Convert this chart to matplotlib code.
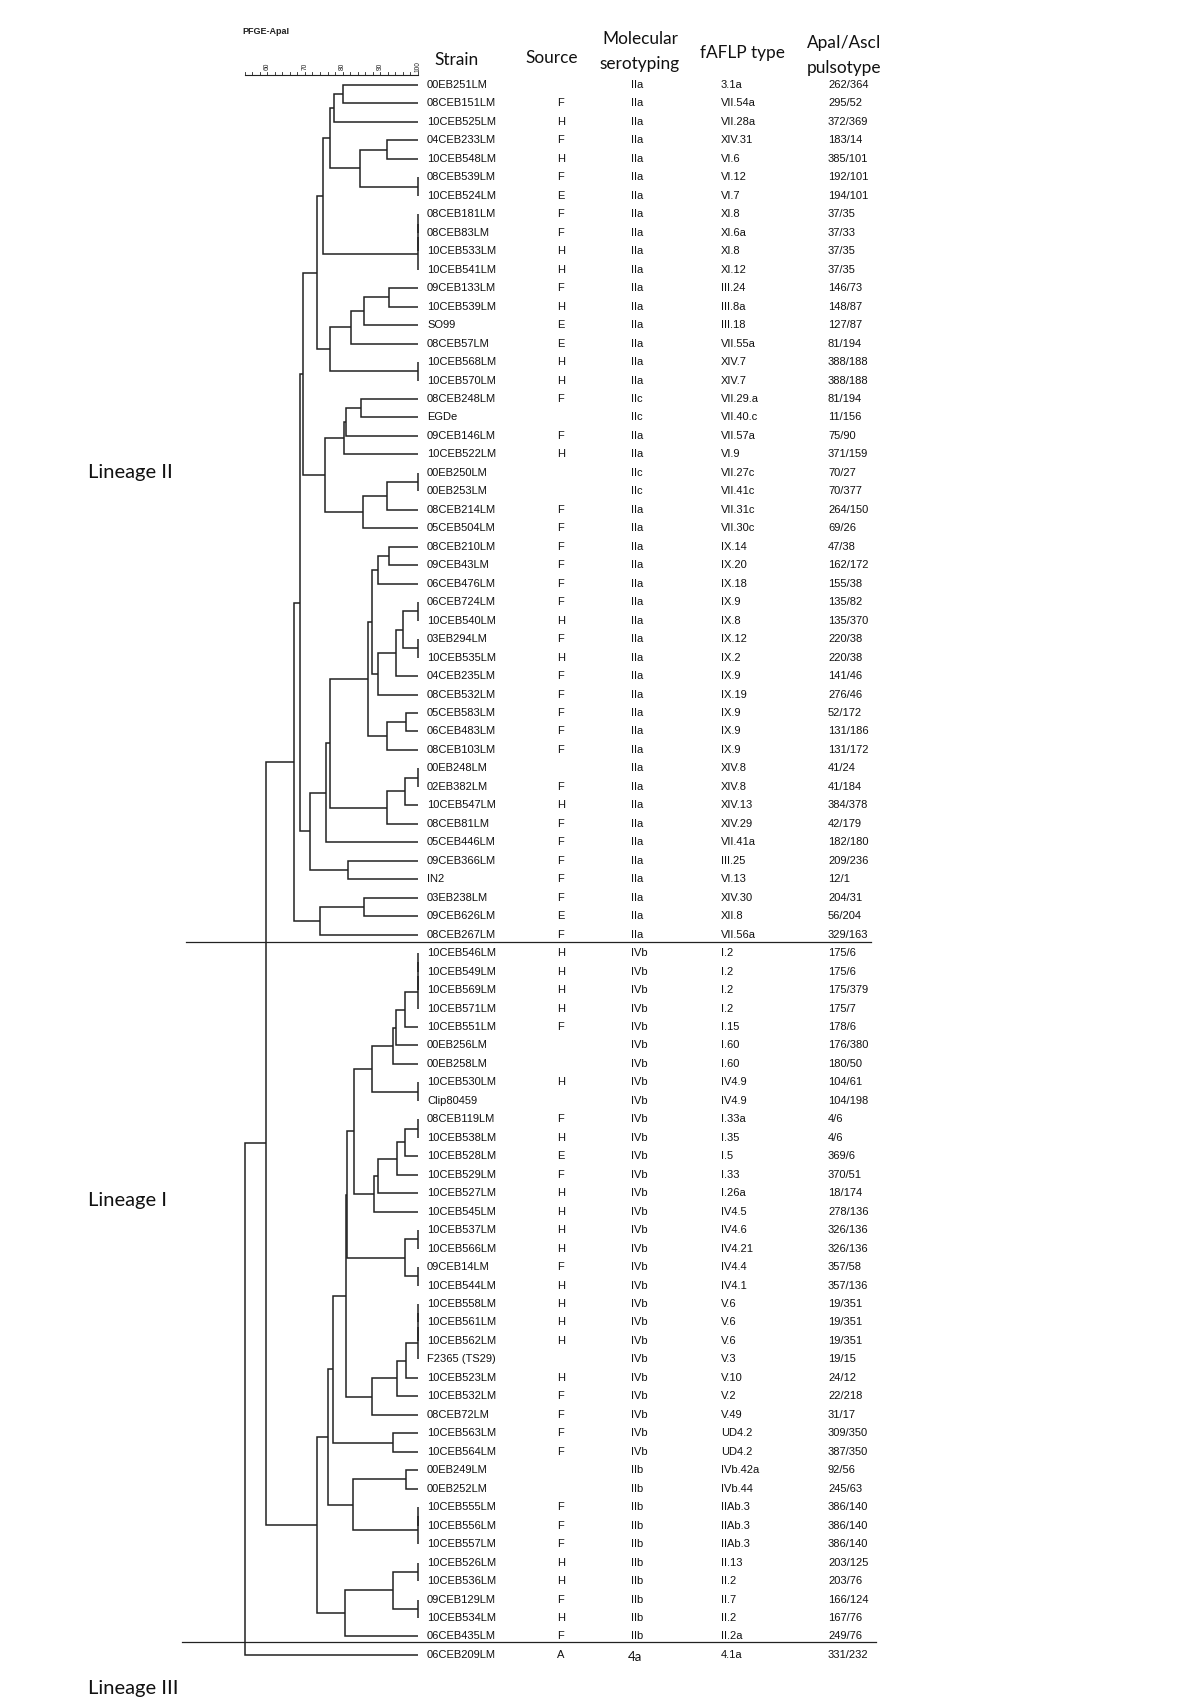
import matplotlib
matplotlib.use('Agg')
import matplotlib.pyplot as plt
from matplotlib import font_manager

strains = ['00EB251LM', '08CEB151LM', '10CEB525LM', '04CEB233LM', '10CEB548LM', '08CEB539LM',
           '10CEB524LM', '08CEB181LM', '08CEB83LM', '10CEB533LM', '10CEB541LM', '09CEB133LM',
           '10CEB539LM', 'SO99', '08CEB57LM', '10CEB568LM', '10CEB570LM', '08CEB248LM', 'EGDe',
           '09CEB146LM', '10CEB522LM', '00EB250LM', '00EB253LM', '08CEB214LM', '05CEB504LM',
           '08CEB210LM', '09CEB43LM', '06CEB476LM', '06CEB724LM', '10CEB540LM', '03EB294LM',
           '10CEB535LM', '04CEB235LM', '08CEB532LM', '05CEB583LM', '06CEB483LM', '08CEB103LM',
           '00EB248LM', '02EB382LM', '10CEB547LM', '08CEB81LM', '05CEB446LM', '09CEB366LM', 'IN2',
           '03EB238LM', '09CEB626LM', '08CEB267LM',
           '10CEB546LM', '10CEB549LM', '10CEB569LM', '10CEB571LM', '10CEB551LM', '00EB256LM',
           '00EB258LM', '10CEB530LM', 'Clip80459', '08CEB119LM', '10CEB538LM', '10CEB528LM',
           '10CEB529LM', '10CEB527LM', '10CEB545LM', '10CEB537LM', '10CEB566LM', '09CEB14LM',
           '10CEB544LM', '10CEB558LM', '10CEB561LM', '10CEB562LM', 'F2365 (TS29)', '10CEB523LM',
           '10CEB532LM', '08CEB72LM', '10CEB563LM', '10CEB564LM', '00EB249LM', '00EB252LM',
           '10CEB555LM', '10CEB556LM', '10CEB557LM', '10CEB526LM', '10CEB536LM', '09CEB129LM',
           '10CEB534LM', '06CEB435LM', '06CEB209LM']

sources = ['', 'F', 'H', 'F', 'H', 'F', 'E', 'F', 'F', 'H', 'H', 'F', 'H', 'E', 'E', 'H', 'H',
           'F', '', 'F', 'H', '', '', 'F', 'F', 'F', 'F', 'F', 'F', 'H', 'F', 'H', 'F', 'F', 'F',
           'F', 'F', '', 'F', 'H', 'F', 'F', 'F', 'F', 'F', 'E', 'F',
           'H', 'H', 'H', 'H', 'F', '', '', 'H', '', 'F', 'H', 'E', 'F', 'H', 'H', 'H', 'H', 'F',
           'H', 'H', 'H', 'H', '', 'H', 'F', 'F', 'F', 'F', '', '', 'F', 'F', 'F', 'H', 'H', 'F',
           'H', 'F', 'A']

serotypes = ['IIa'] * 17 + ['IIc', 'IIc', 'IIa', 'IIa', 'IIc', 'IIc'] + ['IIa'] * 24 \
    + ['IVb'] * 28 + ['IIb'] * 10 + ['4a']

faflp = ['3.1a', 'VII.54a', 'VII.28a', 'XIV.31', 'VI.6', 'VI.12', 'VI.7', 'XI.8', 'XI.6a', 'XI.8',
         'XI.12', 'III.24', 'III.8a', 'III.18', 'VII.55a', 'XIV.7', 'XIV.7', 'VII.29.a', 'VII.40.c',
         'VII.57a', 'VI.9', 'VII.27c', 'VII.41c', 'VII.31c', 'VII.30c', 'IX.14', 'IX.20', 'IX.18',
         'IX.9', 'IX.8', 'IX.12', 'IX.2', 'IX.9', 'IX.19', 'IX.9', 'IX.9', 'IX.9', 'XIV.8', 'XIV.8',
         'XIV.13', 'XIV.29', 'VII.41a', 'III.25', 'VI.13', 'XIV.30', 'XII.8', 'VII.56a',
         'I.2', 'I.2', 'I.2', 'I.2', 'I.15', 'I.60', 'I.60', 'IV4.9', 'IV4.9', 'I.33a', 'I.35',
         'I.5', 'I.33', 'I.26a', 'IV4.5', 'IV4.6', 'IV4.21', 'IV4.4', 'IV4.1', 'V.6', 'V.6', 'V.6',
         'V.3', 'V.10', 'V.2', 'V.49', 'UD4.2', 'UD4.2', 'IVb.42a', 'IVb.44', 'IIAb.3', 'IIAb.3',
         'IIAb.3', 'II.13', 'II.2', 'II.7', 'II.2', 'II.2a', '4.1a']

pulsotypes = ['262/364', '295/52', '372/369', '183/14', '385/101', '192/101', '194/101', '37/35',
              '37/33', '37/35', '37/35', '146/73', '148/87', '127/87', '81/194', '388/188',
              '388/188', '81/194', '11/156', '75/90', '371/159', '70/27', '70/377', '264/150',
              '69/26', '47/38', '162/172', '155/38', '135/82', '135/370', '220/38', '220/38',
              '141/46', '276/46', '52/172', '131/186', '131/172', '41/24', '41/184', '384/378',
              '42/179', '182/180', '209/236', '12/1', '204/31', '56/204', '329/163',
              '175/6', '175/6', '175/379', '175/7', '178/6', '176/380', '180/50', '104/61',
              '104/198', '4/6', '4/6', '369/6', '370/51', '18/174', '278/136', '326/136',
              '326/136', '357/58', '357/136', '19/351', '19/351', '19/351', '19/15', '24/12',
              '22/218', '31/17', '309/350', '387/350', '92/56', '245/63', '386/140', '386/140',
              '386/140', '203/125', '203/76', '166/124', '167/76', '249/76', '331/232']

# UPGMA merges: (node, left, right, % similarity); ints are strain rows
merges = [
    ('n1', 0, 1, 80.2), ('n2', 'n1', 2, 77.7), ('n3', 3, 4, 91.7), ('n4', 5, 6, 100),
    ('n5', 'n3', 'n4', 84.6), ('n6', 'n2', 'n5', 76.7), ('n7', 7, 8, 100), ('n8', 'n7', 9, 100),
    ('n9', 'n8', 10, 100), ('n10', 'n6', 'n9', 74.7), ('n11', 11, 12, 92.4),
    ('n12', 'n11', 13, 85.8), ('n13', 'n12', 14, 82.1), ('n14', 15, 16, 100),
    ('n15', 'n13', 'n14', 76.7), ('n16', 'n10', 'n15', 73.3), ('n17', 17, 18, 84.8),
    ('n18', 'n17', 19, 80.9), ('n19', 'n18', 20, 80.4), ('n20', 21, 22, 100),
    ('n21', 'n20', 23, 91.7), ('n22', 'n21', 24, 85.5), ('n23', 'n19', 'n22', 75.2),
    ('n24', 'n16', 'n23', 69.4), ('n25', 25, 26, 92.4), ('n26', 'n25', 27, 89.5),
    ('n27', 28, 29, 100), ('n28', 30, 31, 100), ('n29', 'n27', 'n28', 95.9),
    ('n30', 'n29', 32, 94.2), ('n31', 'n30', 33, 89.5), ('n32', 'n26', 'n31', 87.8),
    ('n33', 34, 35, 96.7), ('n34', 'n33', 36, 91.9), ('n35', 'n32', 'n34', 86.8),
    ('n36', 37, 38, 100), ('n37', 'n36', 39, 96.6), ('n38', 'n37', 40, 91.9),
    ('n39', 'n35', 'n38', 76.7), ('n40', 'n39', 41, 75.6), ('n41', 42, 43, 81.5),
    ('n42', 'n40', 'n41', 71.4), ('n43', 'n24', 'n42', 68.7), ('n44', 44, 45, 85.8),
    ('n45', 'n44', 46, 74.0), ('n46', 'n43', 'n45', 67.2),
    ('m1', 47, 48, 100), ('m2', 'm1', 49, 100), ('m3', 'm2', 50, 100), ('m4', 'm3', 51, 96.6),
    ('m5', 'm4', 52, 94.1), ('m6', 'm5', 53, 93.3), ('m7', 54, 55, 100),
    ('m8', 'm6', 'm7', 87.7), ('m9', 56, 57, 100), ('m10', 'm9', 58, 96.6),
    ('m11', 'm10', 59, 94.3), ('m12', 'm11', 60, 89.5), ('m13', 'm12', 61, 88.2),
    ('m14', 'm8', 'm13', 83.1), ('m15', 62, 63, 100), ('m16', 64, 65, 100),
    ('m17', 'm15', 'm16', 96.6), ('m18', 'm14', 'm17', 81.2), ('m19', 66, 67, 100),
    ('m20', 'm19', 68, 100), ('m21', 'm20', 69, 100), ('m22', 'm21', 70, 96.7),
    ('m23', 'm22', 71, 94.3), ('m24', 'm23', 72, 87.7), ('m25', 'm18', 'm24', 80.8),
    ('m26', 73, 74, 93.3), ('m27', 'm25', 'm26', 77.5), ('m28', 75, 76, 96.7),
    ('m29', 77, 78, 100), ('m30', 'm29', 79, 100), ('m31', 'm28', 'm30', 82.7),
    ('m32', 'm27', 'm31', 76.0), ('m33', 80, 81, 100), ('m34', 82, 83, 100),
    ('m35', 'm33', 'm34', 93.3), ('m36', 'm35', 84, 80.6), ('m37', 'm32', 'm36', 73.1),
    ('r1', 'n46', 'm37', 59.7), ('root', 'r1', 85, 54.1),
]

scale_ticks = list(range(54, 101, 2))
scale_labels = [60, 70, 80, 90, 100]

lineages = ['Lineage II', 'Lineage I', 'Lineage III']
lineage_rows = [21.0, 60.42, 86.8]
separator_rows = [46.42, 84.28]

W, H = 1200, 1697
row_top, row_h = 85.0, 18.47
ylim = ((H - row_top) / row_h, -row_top / row_h)

# regular Liberation Sans file (not the Narrow cut)
arial_files = [f.fname for f in font_manager.fontManager.ttflist
               if f.name == 'Liberation Sans' and f.style == 'normal'
               and f.weight in (400, 'normal', 'regular') and 'Narrow' not in f.fname]
if arial_files:
    arial = font_manager.FontProperties(fname=arial_files[0], size=8.0)
else:
    arial = font_manager.FontProperties(family='Liberation Sans', size=8.0)

fig = plt.figure(figsize=(W / 100, H / 100), dpi=100)
fig.patch.set_facecolor('white')

# full-width axes: x in figure fraction, y in strain rows
axf = fig.add_axes([0, 0, 1, 1])
axf.set_xlim(0, 1)
axf.set_ylim(*ylim)
axf.axis('off')

# dendrogram axes: x in % similarity, same rows
ax = fig.add_axes([240 / W, 0, 180 / W, 1])
ax.set_xlim(100 + (240 - 418) / 3.77, 100 + 2 / 3.77)
ax.set_ylim(*ylim)
ax.axis('off')

col = '#222222'
pos = {i: (100.0, float(i)) for i in range(len(strains))}
for name, a, b, s in merges:
    x1, y1 = pos[a]
    x2, y2 = pos[b]
    ax.plot([x1, s, s, x2], [y1, y1, y2, y2], color=col, lw=1.1,
            solid_joinstyle='miter', solid_capstyle='butt')
    pos[name] = (s, (y1 + y2) / 2)

# similarity scale
ax.plot([scale_ticks[0], scale_ticks[-1]], [-0.55, -0.55], color=col, lw=0.8)
for t in scale_ticks:
    ax.plot([t, t], [-0.55, -0.7], color=col, lw=0.6)
small = arial.copy()
small.set_size(4.8)
for t in scale_labels:
    ax.text(t, -1.0, str(t), rotation=90, ha='center', va='center',
            fontproperties=small, color=col)
ax.text(scale_ticks[0] - 0.5, -2.9, 'PFGE-ApaI', fontsize=6.5, fontweight='bold',
        family='Liberation Sans', ha='left', va='center', color=col)

# table columns
tf = dict(fontproperties=arial, va='center', ha='left', color='#111111')
for i in range(len(strains)):
    axf.text(427 / W, i, strains[i], **tf)
    axf.text(557 / W, i, sources[i], **tf)
    if serotypes[i] == '4a':
        axf.text(628 / W, i + 0.12, serotypes[i], fontsize=9.5, family='Lato',
                 va='center', ha='left', color='#111111')
    else:
        axf.text(631 / W, i, serotypes[i], **tf)
    axf.text(721 / W, i, faflp[i], **tf)
    axf.text(828 / W, i, pulsotypes[i], **tf)

hf = dict(fontsize=12.4, family='Lato', ha='center', va='center', color='#111111')
fig.text(457 / W, 1 - 60 / H, 'Strain', **hf)
fig.text(552 / W, 1 - 58 / H, 'Source', **hf)
fig.text(640 / W, 1 - 38.5 / H, 'Molecular', **hf)
fig.text(640 / W, 1 - 63.5 / H, 'serotyping', **hf)
fig.text(742 / W, 1 - 53 / H, 'fAFLP type', **hf)
fig.text(844 / W, 1 - 43 / H, 'ApaI/AscI', **hf)
fig.text(844 / W, 1 - 67.5 / H, 'pulsotype', **hf)

for name, r in zip(lineages, lineage_rows):
    axf.text(88 / W, r, name, fontsize=14.5, family='Lato', ha='left', va='center',
             color='#111111')

axf.plot([186 / W, 871 / W], [separator_rows[0]] * 2, color=col, lw=0.9)
axf.plot([182 / W, 876 / W], [separator_rows[1]] * 2, color=col, lw=0.9)

fig.savefig('out.png', dpi=100, facecolor='white')
